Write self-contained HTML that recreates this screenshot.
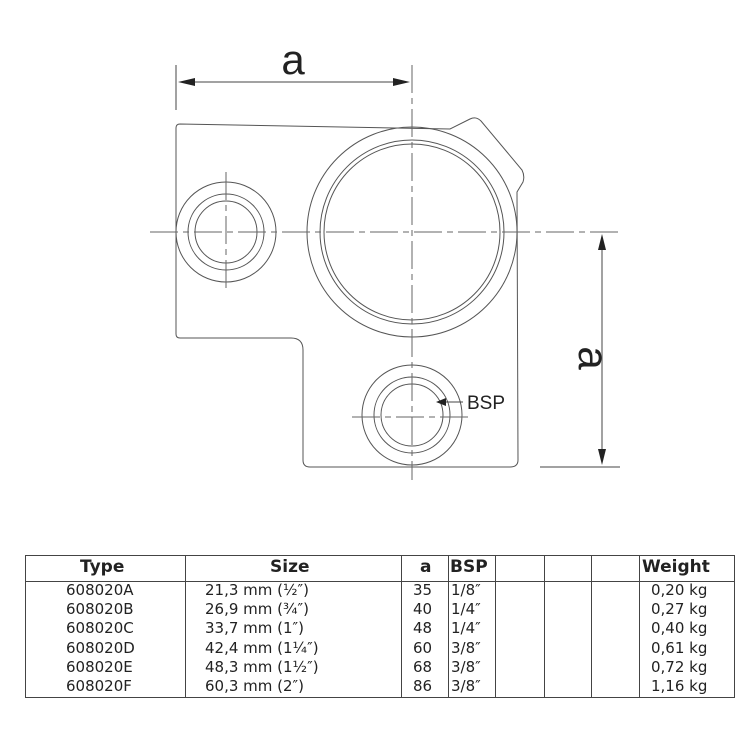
<!DOCTYPE html>
<html><head><style>
html,body{margin:0;padding:0;background:#fff;}
body{width:750px;height:750px;position:relative;overflow:hidden;font-family:"DejaVu Sans","Liberation Sans",sans-serif;}
.t{position:absolute;font-size:15px;color:#222;white-space:nowrap;line-height:19px;}
.h{font-weight:bold;font-size:17px;}
</style></head><body>
<svg width="750" height="750" style="position:absolute;left:0;top:0" xmlns="http://www.w3.org/2000/svg">
<g fill="none" stroke="#555" stroke-width="1">
<path d="M180,124 L450,129 L470,119 Q476,116 481,121 L522,170 Q525,176 523,182 L517,192 L518,460 Q518,467 510,467 L310,467 Q303,467 303,460 L303,350 Q303,338 291,338 L180,338 Q176,338 176,334 L176,128 Q176,124 180,124 Z" fill="#fff"/>
<circle cx="412" cy="232" r="105"/>
<circle cx="412" cy="232" r="92"/>
<circle cx="412" cy="232" r="88"/>
<circle cx="226" cy="232" r="50"/>
<circle cx="226" cy="232" r="38"/>
<circle cx="226" cy="232" r="31"/>
<circle cx="412" cy="415" r="50"/>
<circle cx="412" cy="415" r="38"/>
<circle cx="412" cy="415" r="31"/>
</g>
<g stroke="#666" stroke-width="1" stroke-dasharray="28,5,6,5" fill="none">
<line x1="150" y1="232" x2="620" y2="232"/>
<line x1="412" y1="65" x2="412" y2="480"/>
<line x1="226" y1="172" x2="226" y2="292"/>
<line x1="352" y1="417" x2="472" y2="417"/>
</g>
<g stroke="#444" stroke-width="1">
<line x1="176" y1="65" x2="176" y2="110"/>
<line x1="180" y1="82" x2="408" y2="82"/>
<line x1="602" y1="236" x2="602" y2="463"/>
<line x1="540" y1="467" x2="620" y2="467"/>
<line x1="442" y1="402" x2="463" y2="402"/>
</g>
<g fill="#222">
<polygon points="178,82 195,78 195,86"/>
<polygon points="410,82 393,78 393,86"/>
<polygon points="602,234 598,250 606,250"/>
<polygon points="602,465 598,449 606,449"/>
<polygon points="436,402 446,398 446,406"/>
</g>
<text x="293" y="74" font-family="Liberation Sans,sans-serif" font-size="42" text-anchor="middle" fill="#222">a</text>
<text x="0" y="0" font-family="Liberation Sans,sans-serif" font-size="42" text-anchor="middle" fill="#222" transform="translate(579,358) rotate(90)">a</text>
<text x="467" y="409" font-family="Liberation Sans,sans-serif" font-size="19" fill="#222">BSP</text>
<g stroke="#444" stroke-width="1" fill="none">
<rect x="25.5" y="555.5" width="709" height="142"/>
<line x1="25" y1="581.5" x2="735" y2="581.5"/>
<line x1="185.5" y1="555" x2="185.5" y2="697"/>
<line x1="401.5" y1="555" x2="401.5" y2="697"/>
<line x1="448.5" y1="555" x2="448.5" y2="697"/>
<line x1="495.5" y1="555" x2="495.5" y2="697"/>
<line x1="544.5" y1="555" x2="544.5" y2="697"/>
<line x1="591.5" y1="555" x2="591.5" y2="697"/>
<line x1="639.5" y1="555" x2="639.5" y2="697"/>
</g>
</svg>
<div class="t h" style="left:80px;top:558px">Type</div>
<div class="t h" style="left:270px;top:558px">Size</div>
<div class="t h" style="left:420px;top:558px">a</div>
<div class="t h" style="left:450px;top:558px">BSP</div>
<div class="t h" style="left:642px;top:558px">Weight</div>
<div class="t" style="left:66px;top:581px;line-height:19.2px">608020A<br>608020B<br>608020C<br>608020D<br>608020E<br>608020F</div>
<div class="t" style="left:205px;top:581px;line-height:19.2px">21,3 mm (½″)<br>26,9 mm (¾″)<br>33,7 mm (1″)<br>42,4 mm (1¼″)<br>48,3 mm (1½″)<br>60,3 mm (2″)</div>
<div class="t" style="left:413px;top:581px;line-height:19.2px">35<br>40<br>48<br>60<br>68<br>86</div>
<div class="t" style="left:451px;top:581px;line-height:19.2px">1/8″<br>1/4″<br>1/4″<br>3/8″<br>3/8″<br>3/8″</div>
<div class="t" style="left:651px;top:581px;line-height:19.2px">0,20 kg<br>0,27 kg<br>0,40 kg<br>0,61 kg<br>0,72 kg<br>1,16 kg</div>
</body></html>
